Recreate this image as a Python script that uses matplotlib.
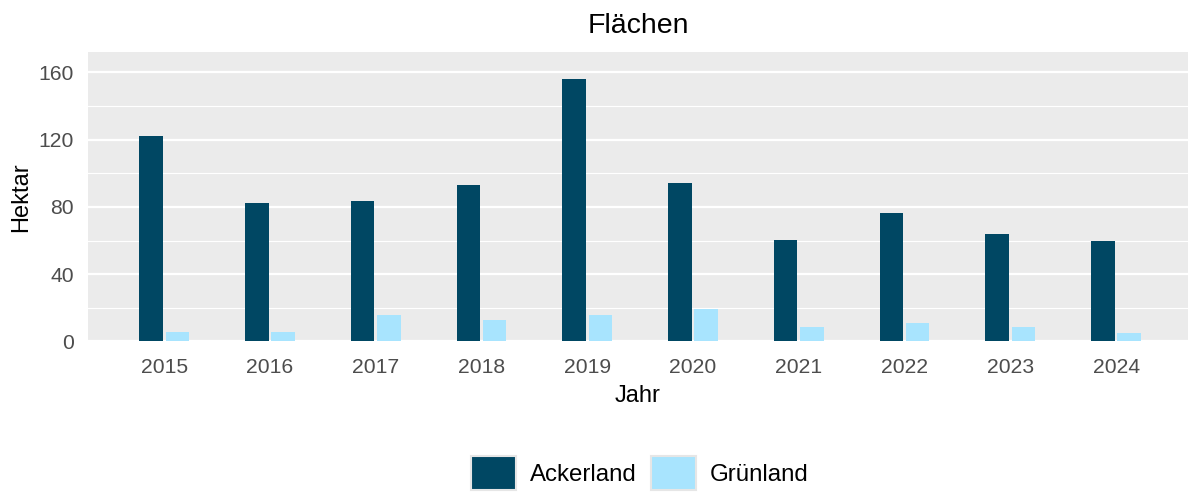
import matplotlib.pyplot as plt
import numpy as np
from matplotlib.patches import Patch

plt.rcParams['font.family'] = ['Liberation Sans', 'DejaVu Sans']

years = ['2015', '2016', '2017', '2018', '2019', '2020', '2021', '2022', '2023', '2024']
ackerland = [122.0, 82.2, 83.4, 92.9, 156.0, 94.0, 60.2, 76.2, 63.8, 59.6]
gruenland = [5.9, 5.9, 15.8, 12.5, 15.8, 19.4, 8.7, 11.1, 8.7, 5.0]
series_names = ['Ackerland', 'Grünland']
series_colors = ['#004763', '#A8E4FE']

W, H = 1188, 494
fig = plt.figure(figsize=(W / 100, H / 100), dpi=100)
ax = fig.add_axes([88 / W, 1 - 341.5 / H, 1100 / W, 289.5 / H])  # panel in pixel terms

x = np.arange(len(years))
bar_w = 0.222
off = 0.124
ax.bar(x - off, ackerland, width=bar_w, color=series_colors[0], zorder=3)
ax.bar(x + off, gruenland, width=bar_w, color=series_colors[1], zorder=3)

ax.set_facecolor('#EBEBEB')
ax.set_xlim(-0.72, 9.68)
ax.set_ylim(0, 172)
ax.set_yticks([0, 40, 80, 120, 160])
ax.set_yticks([20, 60, 100, 140], minor=True)
ax.grid(axis='y', which='major', color='white', linewidth=1.6, zorder=1)
ax.grid(axis='y', which='minor', color='white', linewidth=0.8, zorder=1)
ax.set_axisbelow(True)
for s in ax.spines.values():
    s.set_visible(False)

ax.set_xticks(x)
ax.set_xticklabels(years)
ax.tick_params(axis='both', which='both', length=0, labelsize=15.2, labelcolor='#4D4D4D')
ax.tick_params(axis='x', pad=12)
ax.tick_params(axis='y', pad=10)

ax.set_xlabel('Jahr', fontsize=17, labelpad=6)
ax.set_ylabel('Hektar', fontsize=17, labelpad=5)
ax.set_title('Flächen', fontsize=20.5, pad=14)

handles = [Patch(facecolor=c, edgecolor='#E6E6E6', linewidth=1.5, label=n)
           for c, n in zip(series_colors, series_names)]
fig.legend(
    handles=handles,
    loc='center',
    bbox_to_anchor=(640 / W, 1 - 473 / H),
    ncol=2,
    frameon=False,
    fontsize=17.3,
    handlelength=1.85,
    handleheight=1.85,
    handletextpad=0.6,
    columnspacing=0.6,
)

fig.savefig('out.png', dpi=100)
